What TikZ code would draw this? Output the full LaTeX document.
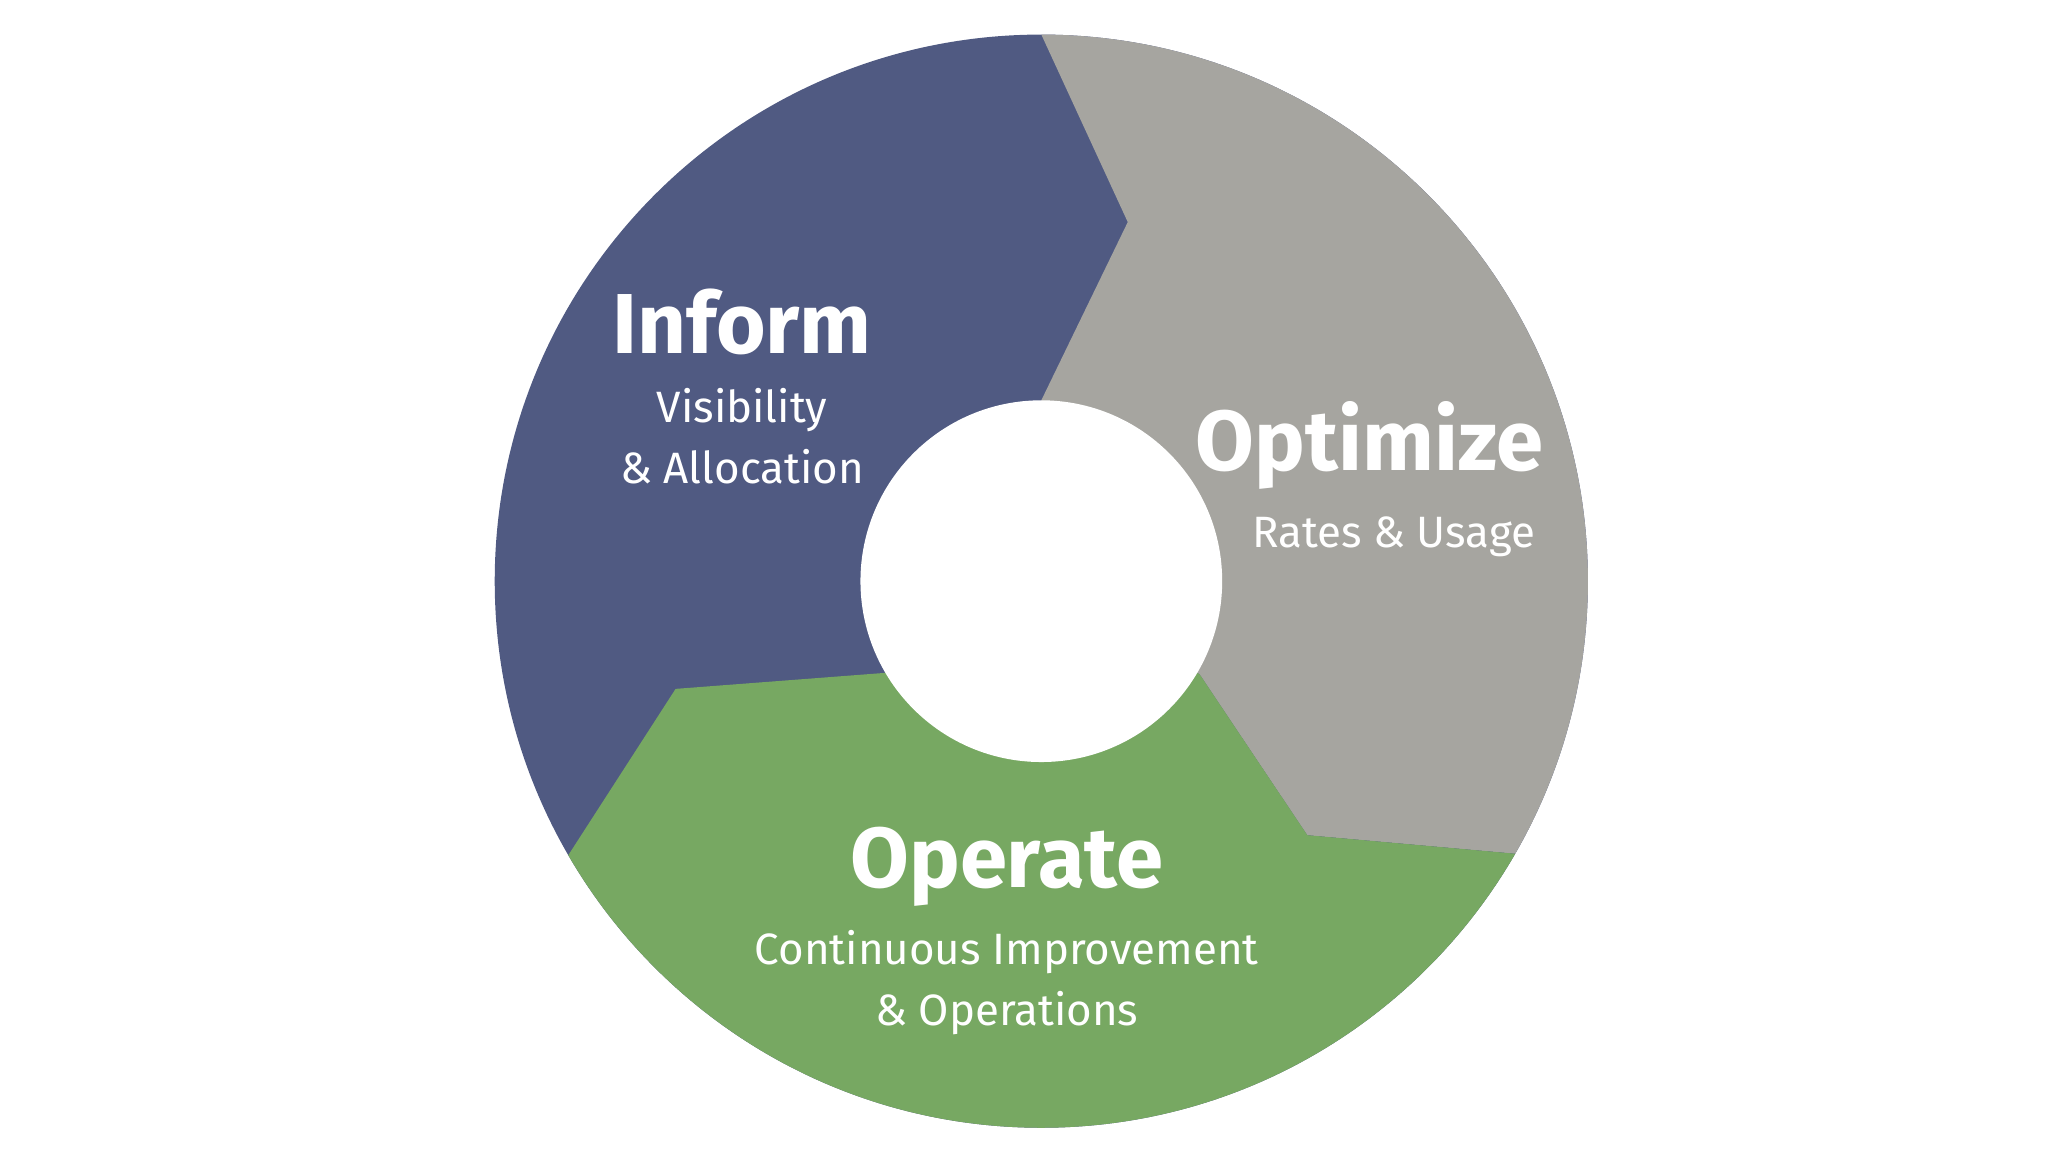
\documentclass[tikz,border=0pt]{standalone}
\usepackage{fontspec}
\setmainfont{Fira Sans}
\definecolor{cblue}{HTML}{505A82}
\definecolor{cgray}{HTML}{A6A5A0}
\definecolor{cgreen}{HTML}{77A862}
\begin{document}
\begin{tikzpicture}[x=1pt,y=-1pt,
  title/.style={text=white,font=\fontsize{64}{70}\selectfont\bfseries,align=center},
  sub/.style={text=white,font=\fontsize{33}{46}\selectfont,align=center}]
\useasboundingbox (0,0) rectangle (1552,866);
\coordinate (c) at (783,437);
\begin{scope}
\clip (c) circle (411);
\fill[cblue] (c) circle (420);
\fill[cgray] (783,437) -- (783,301) -- (848,167) -- (783,26) -- (760,-30) -- (1300,-30) -- (1300,656) -- (1140,642) -- (983,628) -- (902,507) -- cycle;
\fill[cgreen] (783,437) -- (902,507) -- (983,628) -- (1140,642) -- (1300,656) -- (1300,1000) -- (200,1000) -- (340,778) -- (428,642) -- (508,518) -- (665,506) -- cycle;
\end{scope}
\fill[white] (c) circle (136);
\node[title] (t1) at (558,242) {Inform};
\node[sub] (s1) at (558,328) {Visibility\\\& Allocation};
\node[title] (t2) at (1030,335) {Optimize};
\node[sub] (s2) at (1048,404) {Rates \& Usage};
\node[title] (t3) at (757,652) {Operate};
\node[sub] (s3) at (757,739) {Continuous Improvement\\\& Operations};
\end{tikzpicture}
\end{document}
